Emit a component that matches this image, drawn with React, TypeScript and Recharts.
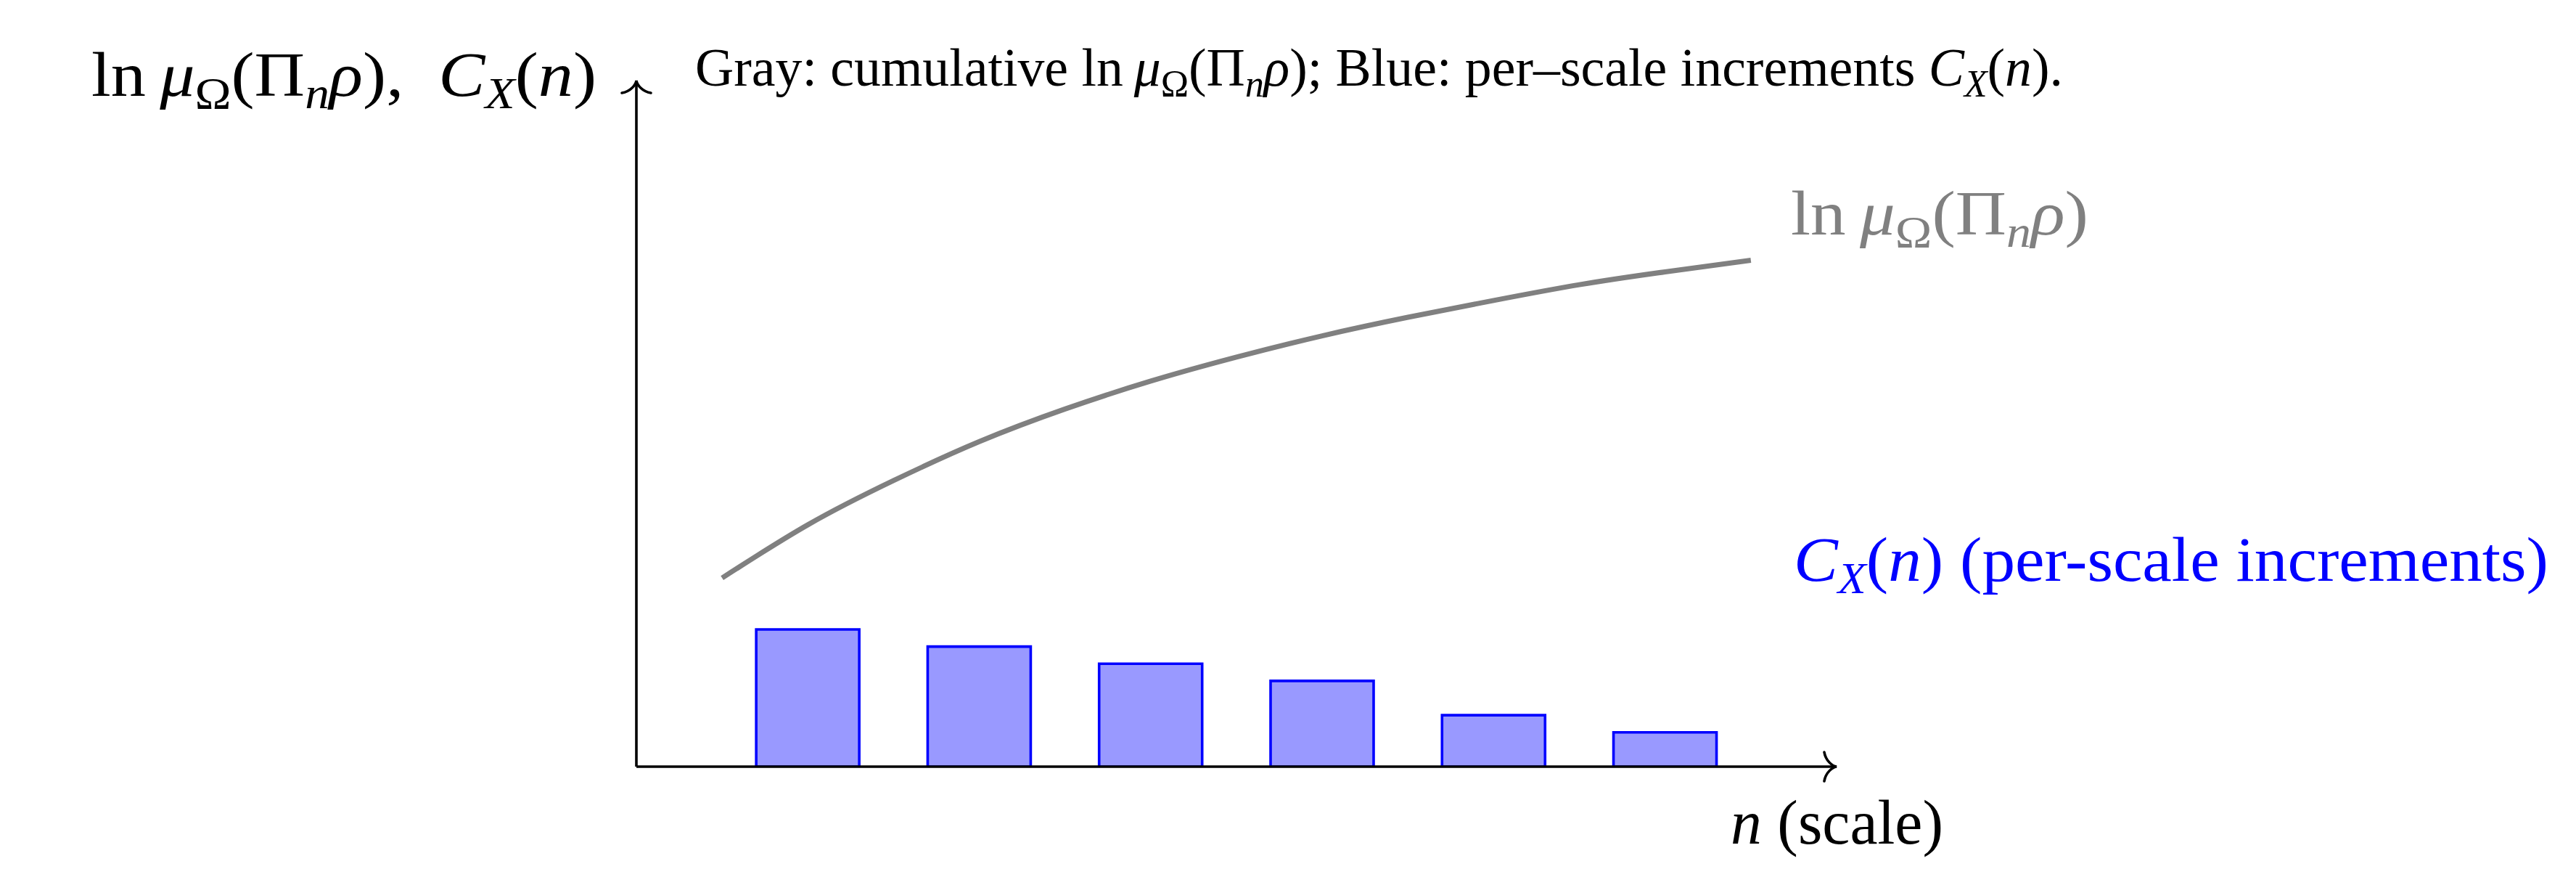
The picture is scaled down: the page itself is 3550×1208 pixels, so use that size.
import React from 'react';
import { ComposedChart, Bar, Line, XAxis, YAxis, ReferenceDot } from 'recharts';

// ---- data ----
const scales = [1, 2, 3, 4, 5, 6];
const increments = [0.8, 0.7, 0.6, 0.5, 0.3, 0.2];

const curveN = [0.5, 1, 1.5, 2, 2.5, 3, 3.5, 4, 4.5, 5, 5.5, 6, 6.5];
const curveLn = [1.1, 1.41, 1.668, 1.895, 2.085, 2.248, 2.388, 2.512, 2.62, 2.718, 2.81, 2.885, 2.952];

const barData = scales.map((n, i) => ({ n, c: increments[i] }));
const curveData = curveN.map((n, i) => ({ n, ln: curveLn[i] }));

const FONT = '"Liberation Serif", "Times New Roman", serif';

type Part = { t: string; it?: boolean; sub?: boolean };

function MathLine(props: { x: number; y: number; size: number; fill: string; parts: Part[]; width: number }) {
  const { x, y, size, fill, parts, width } = props;
  let shifted = false;
  const spans = parts.map((p, i) => {
    let dy: number | undefined = undefined;
    if (p.sub && !shifted) {
      dy = size * 0.2;
      shifted = true;
    } else if (!p.sub && shifted) {
      dy = -size * 0.2;
      shifted = false;
    }
    return (
      <tspan key={i} dy={dy} fontStyle={p.it ? 'italic' : 'normal'} fontSize={p.sub ? size * 0.7 : size}>
        {p.t}
      </tspan>
    );
  });
  return (
    <text
      x={x}
      y={y}
      fill={fill}
      fontFamily={FONT}
      fontSize={size}
      textLength={width}
      lengthAdjust="spacingAndGlyphs"
      style={{ whiteSpace: 'pre' }}
    >
      {spans}
    </text>
  );
}

const lnMu: Part[] = [
  { t: 'ln\u2009' },
  { t: 'μ', it: true },
  { t: 'Ω', sub: true },
  { t: '(Π' },
  { t: 'n', it: true, sub: true },
  { t: 'ρ', it: true },
  { t: ')' },
];
const cxn: Part[] = [
  { t: 'C', it: true },
  { t: 'X', it: true, sub: true },
  { t: '(' },
  { t: 'n', it: true },
  { t: ')' },
];

const titleParts: Part[] = [
  { t: 'Gray: cumulative ln\u2009' },
  { t: 'μ', it: true },
  { t: 'Ω', sub: true },
  { t: '(Π' },
  { t: 'n', it: true, sub: true },
  { t: 'ρ', it: true },
  { t: '); Blue: per–scale increments ' },
  { t: 'C', it: true },
  { t: 'X', it: true, sub: true },
  { t: '(' },
  { t: 'n', it: true },
  { t: ').' },
];

const yLabelParts: Part[] = [...lnMu, { t: ',\u00A0\u00A0' }, ...cxn];
const blueParts: Part[] = [...cxn, { t: ' (per-scale increments)' }];
const xLabelParts: Part[] = [{ t: 'n', it: true }, { t: ' (scale)' }];

const SW = 3.6;

const ArrowRight = (p: any) => {
  const { cx, cy } = p;
  return (
    <path
      d={`M${cx - 17},${cy - 20} C${cx - 15},${cy - 8} ${cx - 6},${cy - 1} ${cx},${cy} C${cx - 6},${cy + 1} ${cx - 15},${cy + 8} ${cx - 17},${cy + 20}`}
      fill="none"
      stroke="#000"
      strokeWidth={SW}
      strokeLinecap="round"
    />
  );
};

const ArrowUp = (p: any) => {
  const { cx, cy } = p;
  return (
    <path
      d={`M${cx - 20},${cy + 17} C${cx - 8},${cy + 15} ${cx - 1},${cy + 6} ${cx},${cy} C${cx + 1},${cy + 6} ${cx + 8},${cy + 15} ${cx + 20},${cy + 17}`}
      fill="none"
      stroke="#000"
      strokeWidth={SW}
      strokeLinecap="round"
    />
  );
};

export default function App() {
  return (
    <div style={{ position: 'absolute', left: 0, top: 0, width: 3550, height: 1208, background: '#fff', overflow: 'hidden' }}>
      <ComposedChart width={3550} height={1208} data={barData} margin={{ top: 111, right: 1019, bottom: 151, left: 876 }}>
        <XAxis
          dataKey="n"
          type="number"
          domain={[0, 7]}
          height={1}
          tick={false}
          tickLine={false}
          axisLine={{ stroke: '#000', strokeWidth: SW }}
          allowDataOverflow
        />
        <XAxis xAxisId="curve" dataKey="n" type="number" domain={[0, 7]} hide allowDataOverflow />
        <YAxis
          type="number"
          domain={[0, 4]}
          width={1}
          tick={false}
          tickLine={false}
          axisLine={{ stroke: '#000', strokeWidth: SW }}
          allowDataOverflow
        />
        <Bar dataKey="c" fill="#9999FF" stroke="#0000FF" strokeWidth={SW} barSize={142} isAnimationActive={false} />
        <Line
          xAxisId="curve"
          data={curveData}
          dataKey="ln"
          type="natural"
          stroke="#808080"
          strokeWidth={7}
          dot={false}
          activeDot={false}
          isAnimationActive={false}
        />
        <ReferenceDot x={7} y={0} r={1} ifOverflow="visible" shape={ArrowRight} />
        <ReferenceDot x={0} y={4} r={1} ifOverflow="visible" shape={ArrowUp} />
      </ComposedChart>
      <svg width={3550} height={1208} style={{ position: 'absolute', left: 0, top: 0, pointerEvents: 'none' }}>
        <MathLine x={958} y={118} size={74} fill="#000" parts={titleParts} width={1885} />
        <MathLine x={126} y={132} size={87} fill="#000" parts={yLabelParts} width={696} />
        <MathLine x={2468} y={323} size={87} fill="#808080" parts={lnMu} width={410} />
        <MathLine x={2472} y={800} size={87} fill="#0000FF" parts={blueParts} width={1040} />
        <MathLine x={2385} y={1162} size={87} fill="#000" parts={xLabelParts} width={293} />
      </svg>
    </div>
  );
}
